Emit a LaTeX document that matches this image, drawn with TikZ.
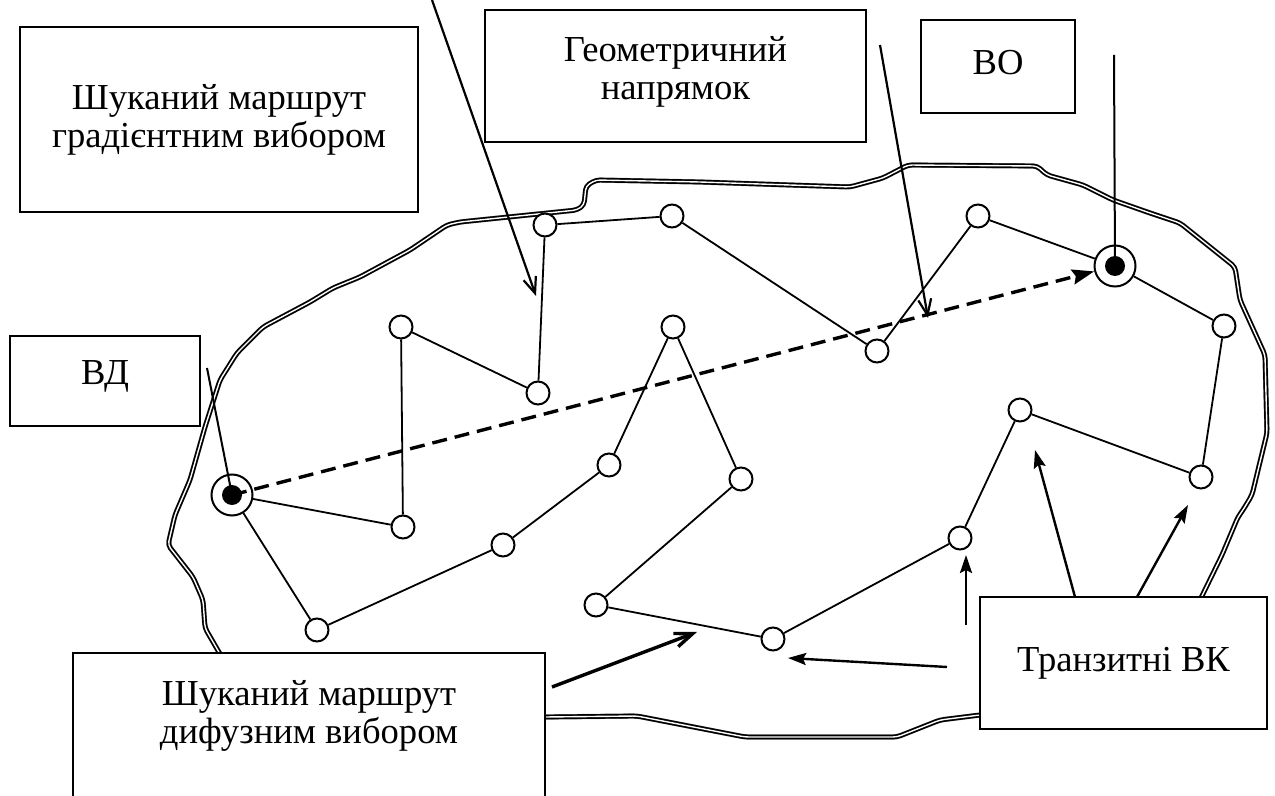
\documentclass[tikz,border=0pt]{standalone}
\usepackage{fontspec}
\setmainfont{Liberation Serif}
\usetikzlibrary{arrows.meta}
\begin{document}
\begin{tikzpicture}[x=0.5pt,y=-0.5pt,
  rim/.style={draw=black,line width=0.85pt,double=white,double distance=0.7pt,rounded corners=2pt},
  rimshade/.style={draw=black!45,line width=2.6pt,rounded corners=2pt},
  box/.style={draw,line width=1.4pt,fill=white,align=center,inner sep=0pt,
    font=\fontsize{18.3}{19}\selectfont},
  vk/.style={circle,draw,line width=1pt,fill=white,minimum size=11.5pt,inner sep=0pt},
  term/.style={circle,draw,line width=1pt,fill=white,minimum size=20.5pt,inner sep=0pt},
  core/.style={circle,fill=black,minimum size=10pt,inner sep=0pt},
  link/.style={line width=0.9pt},
  course/.style={line width=1.7pt,dash pattern=on 7.5pt off 4pt,
    -{Stealth[length=11pt,width=7.5pt,inset=1.5pt]}},
  lead/.style={line width=1pt},
  barb/.style={line width=1.1pt,-{Straight Barb[length=8pt,width=6.5pt]}},
  barbthick/.style={line width=1.7pt,-{Straight Barb[length=9pt,width=7pt]}},
  pointer/.style={line width=1.2pt,-{Stealth[length=9pt,width=6pt,inset=1.5pt]}}
]
\useasboundingbox (0,0) rectangle (1275,796);
\clip (0,0) rectangle (1275,796);

% outline of the region
\def\outline{(220,380) -- (237,353) -- (263,327) -- (310,302) -- (333,288)
  -- (360,277) -- (410,250) -- (447,225) -- (460,222) -- (577,210)
  -- (584,205) -- (586,186) -- (596,180) -- (700,182) -- (850,187)
  -- (883,178) -- (908,165) -- (1037,166) -- (1047,175) -- (1083,185)
  -- (1113,200) -- (1150,213) -- (1180,223) -- (1235,267) -- (1240,300)
  -- (1265,355) -- (1267,433) -- (1252,495) -- (1243,510) -- (1238,517)
  -- (1222,555) -- (1200,600) -- (1150,680) -- (1050,712) -- (980,715)
  -- (940,720) -- (897,737) -- (745,737) -- (637,716)
  -- (545,717) -- (400,718) -- (250,700) -- (220,654) -- (205,628)
  -- (203,600) -- (193,577) -- (168,545) -- (175,515) -- (190,480)
  -- (205,427) -- cycle}
\draw[rimshade] \outline;
\draw[rim] \outline;

% caption boxes
\node[box,minimum width=199pt,minimum height=92.5pt] (gradBox) at (219,119.5)
  {Шуканий маршрут\\градієнтним вибором};
\node[box,minimum width=190.5pt,minimum height=66pt] (geoBox) at (675.5,76)
  {Геометричний\\напрямок\rule[-8pt]{0pt}{8pt}};
\node[box,minimum width=77pt,minimum height=46.5pt] (voBox) at (998,66.5)
  {ВО\rule[-4pt]{0pt}{4pt}};
\node[box,minimum width=95pt,minimum height=45pt] (vdBox) at (105,381)
  {ВД\rule[-8.5pt]{0pt}{8.5pt}};
\node[box,minimum width=143.5pt,minimum height=66pt] (tranBox) at (1123.5,663)
  {Транзитні ВК};
\node[box,minimum width=236pt,minimum height=100pt] (diffBox) at (309,753)
  {Шуканий маршрут\\дифузним вибором\rule[-41pt]{0pt}{41pt}};

% terminal vertices
\node[term] (vd) at (232,495) {};
\node[core] (vdDot) at (vd) {};
\node[term] (vo) at (1115,266) {};
\node[core] (voDot) at (vo) {};

% transit vertices
\node[vk] (a) at (545,225) {};
\node[vk] (b) at (672,216) {};
\node[vk] (c) at (978,216) {};
\node[vk] (d) at (1224,326) {};
\node[vk] (e) at (1201,477) {};
\node[vk] (f) at (1020,410) {};
\node[vk] (g) at (960,538) {};
\node[vk] (h) at (773,639) {};
\node[vk] (i) at (596,605) {};
\node[vk] (j) at (741,479) {};
\node[vk] (k) at (673,327) {};
\node[vk] (l) at (609,465) {};
\node[vk] (m) at (503,545) {};
\node[vk] (n) at (317,630) {};
\node[vk] (o) at (403,527) {};
\node[vk] (p) at (401,327) {};
\node[vk] (q) at (538,393) {};
\node[vk] (r) at (877,351) {};

% route found by gradient choice
\foreach \u/\v in {vd/o,o/p,p/q,q/a,a/b,b/r,r/c,c/vo}
  \draw[link] (\u) -- (\v);
% route found by diffusion choice
\foreach \u/\v in {vd/n,n/m,m/l,l/k,k/j,j/i,i/h,h/g,g/f,f/e,e/d,d/vo}
  \draw[link] (\u) -- (\v);

% geometric direction
\draw[course] (vdDot.center) -- (vo);

% leaders and pointers
\coordinate (vdLead) at (207,368);
\coordinate (voLead) at (1114,55);
\draw[lead] (vdLead) -- (vdDot.center);
\draw[lead] (voLead) -- (voDot.center);

\coordinate (gradTail) at (432,0);
\coordinate (gradTip) at (536,296);
\draw[barb] (gradTail) -- (gradTip);

\coordinate (geoTail) at (880,45);
\coordinate (geoTip) at (928,318);
\draw[barb] (geoTail) -- (geoTip);

\coordinate (diffTail) at (552,687);
\coordinate (diffTip) at (697,632);
\draw[barbthick] (diffTail) -- (diffTip);

\coordinate (tranTailH) at (947,667);
\coordinate (tranTipH) at (788,658);
\coordinate (tranTailG) at (966,625);
\coordinate (tranTipG) at (966,555);
\coordinate (tranTailF) at (1075,597);
\coordinate (tranTipF) at (1035,450);
\coordinate (tranTailE) at (1137,597);
\coordinate (tranTipE) at (1188,505);
\draw[pointer] (tranTailH) -- (tranTipH);
\draw[pointer] (tranTailG) -- (tranTipG);
\draw[pointer] (tranTailF) -- (tranTipF);
\draw[pointer] (tranTailE) -- (tranTipE);
\end{tikzpicture}
\end{document}
